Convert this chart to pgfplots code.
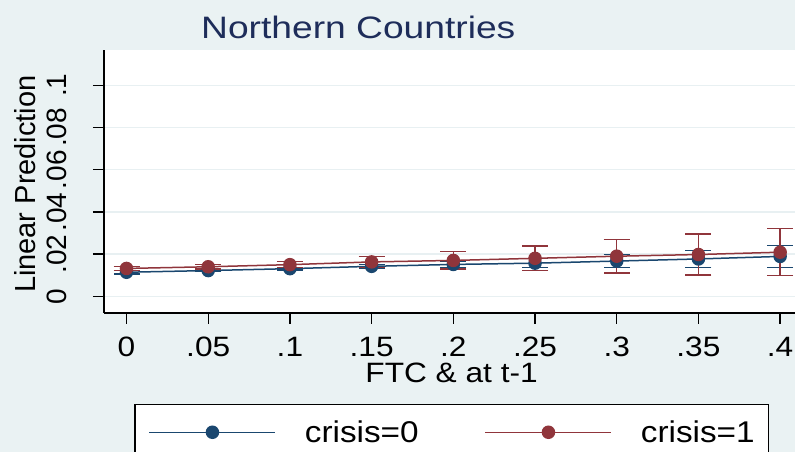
\documentclass[border=0pt]{standalone}
\usepackage{fontspec}
\setmainfont{Liberation Sans}
\newfontfamily\tickfont[FakeStretch=1.13]{Liberation Sans}
\newfontfamily\titlefont[FakeStretch=1.2]{Liberation Sans}
\newfontfamily\legfont[FakeStretch=1.11]{Liberation Sans}
\usepackage{pgfplots}
\pgfplotsset{compat=1.18}
\definecolor{bgc}{RGB}{234,242,243}
\definecolor{gridc}{RGB}{232,240,242}
\definecolor{snavy}{RGB}{26,71,111}
\definecolor{smaroon}{RGB}{144,53,59}
\definecolor{titlec}{RGB}{30,45,90}
\begin{document}
\begin{tikzpicture}[x=1bp,y=1bp]
\useasboundingbox (0,0) rectangle (795,452);
\clip (0,0) rectangle (795,452);
\fill[bgc] (0,0) rectangle (795,452);
\begin{axis}[
  at={(104bp,139bp)}, anchor=south west,
  scale only axis, width=691bp, height=263bp,
  xmin=-0.01377, xmax=0.4091, ymin=-0.00791, ymax=0.11673,
  axis background/.style={fill=white},
  axis x line*=bottom, axis y line*=left,
  axis line style={black, line width=1.3bp},
  xtick={0,0.05,0.1,0.15,0.2,0.25,0.3,0.35,0.4},
  xticklabels={0,.05,.1,.15,.2,.25,.3,.35,.4},
  ytick={0,0.02,0.04,0.06,0.08,0.1},
  yticklabels={0,.02,.04,.06,.08,.1},
  tick align=outside, major tick length=11bp,
  tick style={black, line width=1.3bp},
  ymajorgrids, grid style={gridc, line width=1.5bp},
  xticklabel style={font=\fontsize{28bp}{30bp}\tickfont, anchor=base, inner sep=0pt, yshift=-32.3bp},
  yticklabel style={font=\fontsize{28bp}{30bp}\selectfont, xshift=-26bp, rotate=90, anchor=base, inner sep=0pt},
  title={Northern Countries},
  title style={at={(axis description cs:0.368,1)}, anchor=base, yshift=5.7bp, font=\fontsize{31bp}{33bp}\titlefont, text=titlec, inner sep=0pt},
  xlabel={FTC \& at t-1},
  xlabel style={at={(axis description cs:0.503,0)}, anchor=base, yshift=-69.7bp, font=\fontsize{28bp}{30bp}\tickfont, inner sep=0pt},
  ylabel={Linear Prediction},
  ylabel style={at={(axis description cs:-0.09985,0.49)}, anchor=base, font=\fontsize{29bp}{31bp}\selectfont, inner sep=0pt},
  legend columns=2,
  legend style={at={(axis description cs:0.0439,-0.346)}, anchor=north west, draw=black, line width=1.3bp, fill=white, inner xsep=13.7bp, inner ysep=16bp, font=\fontsize{30bp}{32bp}\legfont, nodes={inner sep=0pt}, /tikz/every odd column/.append style={column sep=28.7bp}, /tikz/every even column/.append style={column sep=66bp}},
  legend image code/.code={\draw[mark repeat=2, mark phase=2, #1] plot coordinates {(0bp,0bp) (63bp,0bp) (126bp,0bp)};},
]
\addplot[color=snavy, line width=1.5bp, mark=*, mark size=6bp, mark options={solid},
  error bars/.cd, y dir=both, y explicit, error bar style={line width=1.3bp}, error mark options={rotate=90, mark size=13bp, line width=1.3bp}]
  coordinates {
  (0,0.0114) +- (0,0.0008)
  (0.05,0.0122) +- (0,0.0006)
  (0.1,0.0131) +- (0,0.0007)
  (0.15,0.0142) +- (0,0.0010)
  (0.2,0.0151) +- (0,0.0015)
  (0.25,0.0157) +- (0,0.0022)
  (0.3,0.0167) +- (0,0.0030)
  (0.35,0.0177) +- (0,0.0040)
  (0.4,0.0189) +- (0,0.0052)
  };
\addlegendentry{crisis=0}
\addplot[color=smaroon, line width=1.5bp, mark=*, mark size=6bp, mark options={solid},
  error bars/.cd, y dir=both, y explicit, error bar style={line width=1.3bp}, error mark options={rotate=90, mark size=13bp, line width=1.3bp}]
  coordinates {
  (0,0.0132) +- (0,0.0010)
  (0.05,0.0140) +- (0,0.0010)
  (0.1,0.0150) +- (0,0.0015)
  (0.15,0.0163) +- (0,0.0025)
  (0.2,0.0170) +- (0,0.0041)
  (0.25,0.0180) +- (0,0.0059)
  (0.3,0.0190) +- (0,0.0079)
  (0.35,0.0198) +- (0,0.0097)
  (0.4,0.0209) +- (0,0.0112)
  };
\addlegendentry{crisis=1\hspace{7bp}}
\end{axis}
\end{tikzpicture}
\end{document}
